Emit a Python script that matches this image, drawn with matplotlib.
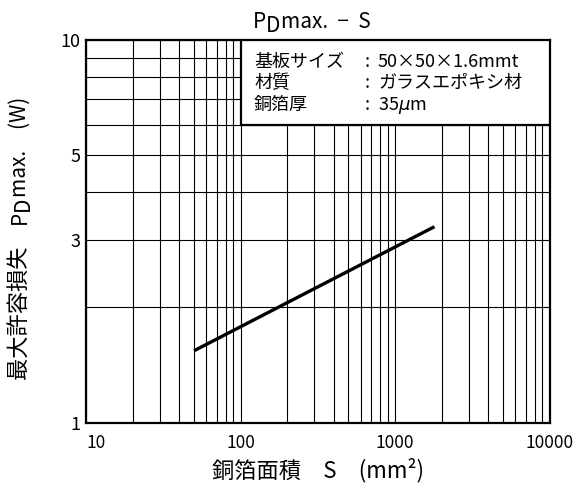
import matplotlib
matplotlib.use("Agg")
import matplotlib.pyplot as plt
from matplotlib.patches import Rectangle
from matplotlib.ticker import FixedLocator, NullFormatter

plt.rcParams["font.family"] = ["Noto Sans CJK JP", "DejaVu Sans"]

# Copper foil area vs. max allowable power dissipation
area_mm2 = [50, 1800]
pd_max_w = [1.54, 3.25]

x_ticks = [10, 100, 1000, 10000]
x_ticklabels = ["10", "100", "1000", "10000"]
y_ticks = [1, 3, 5, 10]
y_ticklabels = ["1", "3", "5", "10"]

x_minor = [m * d for d in (10, 100, 1000) for m in range(2, 10)]
y_minor = [2, 4, 6, 7, 8, 9]

cond_labels = ["基板サイズ", "材質", "銅箔厚"]
cond_values = ["50×50×1.6mmt", "ガラスエポキシ材", r"35$\mu$m"]

W, H = 578, 492
fig = plt.figure(figsize=(W / 100, H / 100), dpi=100)
ax = fig.add_axes([86 / W, 1 - 422.5 / H, 463.5 / W, 382.5 / H])

ax.set_xscale("log")
ax.set_yscale("log")
ax.set_xlim(10, 10000)
ax.set_ylim(1, 10)

ax.set_xticks(x_ticks)
ax.set_xticklabels(x_ticklabels, fontsize=12.5)
ax.set_yticks(y_ticks)
ax.set_yticklabels(y_ticklabels, fontsize=13)
ax.xaxis.set_minor_locator(FixedLocator(x_minor))
ax.yaxis.set_minor_locator(FixedLocator(y_minor))
ax.xaxis.set_minor_formatter(NullFormatter())
ax.yaxis.set_minor_formatter(NullFormatter())
ax.tick_params(which="both", length=0)
ax.tick_params(axis="x", pad=8)
ax.tick_params(axis="y", pad=4)
ax.get_xticklabels()[0].set_horizontalalignment("left")

ax.grid(True, which="both", color="black", linewidth=0.8)
for sp in ax.spines.values():
    sp.set_linewidth(1.6)

ax.plot(area_mm2, pd_max_w, color="black", linewidth=2.4,
        solid_capstyle="butt", zorder=3)

# condition box, top right, covers the grid
ax.add_patch(Rectangle((100, 6), 10000 - 100, 10 - 6, facecolor="white",
                       edgecolor="black", linewidth=1.6, zorder=4))
row_y = [0.9425, 0.8876, 0.830]
for yy, lab, val in zip(row_y, cond_labels, cond_values):
    ax.text(0.3625, yy, lab, transform=ax.transAxes, fontsize=13, va="center", zorder=5)
    ax.text(0.602, yy, ":", transform=ax.transAxes, fontsize=13, va="center", zorder=5)
    ax.text(0.630, yy, val, transform=ax.transAxes, fontsize=13, va="center", zorder=5)

renderer = fig.canvas.get_renderer()


def chained(parts, x, y, rotation=0):
    """Lay out text pieces end to end, in pixels from the top left.
    Each part is (text, fontsize, drop in px below the baseline)."""
    pos = x if rotation == 0 else y
    for txt, size, drop in parts:
        if rotation == 0:
            px, py = pos, y + drop
        else:
            px, py = x + drop, pos
        t = fig.text(px / W, 1 - py / H, txt, fontsize=size, rotation=rotation,
                     rotation_mode="anchor", ha="left", va="baseline")
        ext = t.get_window_extent(renderer)
        pos = pos + ext.width if rotation == 0 else pos - ext.height


# title with lowered D
chained([("P", 15, 0), ("D", 15, 4), ("max.  −  S", 15, 0)], 253, 28)
fig.text(317.5 / W, 1 - 470 / H, "銅箔面積　S　(mm²)",
         fontsize=16, ha="center", va="center")
chained([("最大許容損失　", 16, 0), ("P", 15, 0), ("D", 15, 3),
         ("max.　(W)", 15, 0)], 26, 380, rotation=90)

fig.savefig("out.png", dpi=100)
